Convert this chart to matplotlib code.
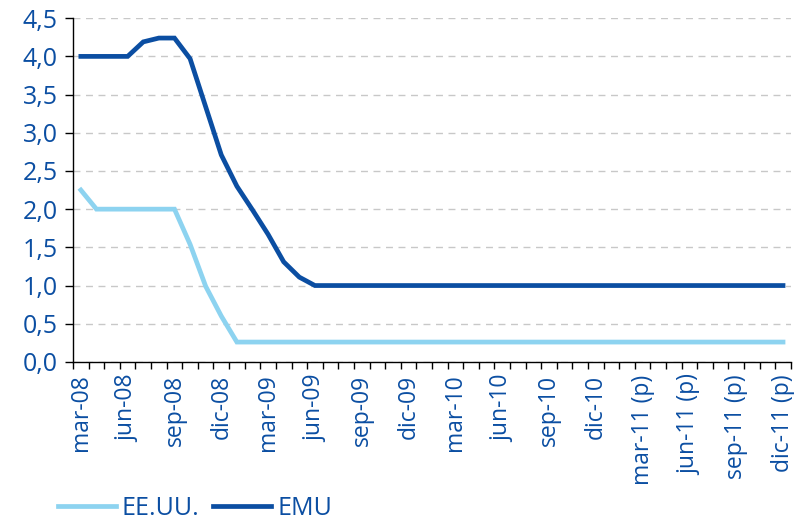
import matplotlib
matplotlib.use("Agg")
import matplotlib.pyplot as plt
from matplotlib.ticker import FixedLocator, FuncFormatter

months = ["mar", "abr", "may", "jun", "jul", "ago", "sep", "oct", "nov", "dic", "ene", "feb"]
years = ["08"] * 10 + ["09"] * 12 + ["10"] * 12 + ["11"] * 12
labels = []
for i, yy in enumerate(years):
    m = months[i % 12]
    lab = f"{m}-{yy}"
    if yy == "11":
        lab += " (p)"
    labels.append(lab)

eeuu = [2.25, 2.0, 2.0, 2.0, 2.0, 2.0, 2.0, 1.54, 0.99, 0.6] + [0.26] * 36
emu = [4.0, 4.0, 4.0, 4.0, 4.19, 4.24, 4.24, 3.97, 3.34, 2.71,
       2.3, 1.99, 1.67, 1.31, 1.11] + [1.0] * 31

text_color = "#0B4EA2"
light = "#8DD3F0"
dark = "#0B4EA2"

plt.rcParams["font.family"] = ["Open Sans", "DejaVu Sans"]

fig = plt.figure(figsize=(7.94, 5.2), dpi=100)
ax = fig.add_axes([0.092, 0.304, 0.904, 0.661])

x = list(range(len(labels)))
ax.plot(x, eeuu, color=light, lw=3.4, label="EE.UU.", solid_joinstyle="miter")
ax.plot(x, emu, color=dark, lw=3.4, label="EMU", solid_joinstyle="miter")

ax.set_xlim(-0.5, len(labels) - 0.5)
ax.set_ylim(0, 4.5)
ax.set_yticks([i * 0.5 for i in range(10)])
ax.yaxis.set_major_formatter(FuncFormatter(lambda v, p: f"{v:.1f}".replace(".", ",")))
ax.grid(axis="y", color="#c8c8c8", linestyle=(0, (5, 4)), lw=1)
ax.set_axisbelow(True)

ax.set_xticks(x[::3])
ax.set_xticklabels(labels[::3], rotation=90)
ax.xaxis.set_minor_locator(FixedLocator([i - 0.5 for i in range(len(labels) + 1)]))
ax.tick_params(axis="x", which="major", length=0, pad=9, labelsize=16.5)
ax.tick_params(axis="x", which="minor", length=5, width=1)
ax.tick_params(axis="y", length=6, width=1, pad=5, labelsize=18)
ax.tick_params(labelcolor=text_color)

for s in ["top", "right"]:
    ax.spines[s].set_visible(False)
for s in ["left", "bottom"]:
    ax.spines[s].set_linewidth(1)

leg = fig.legend(loc="lower left", bbox_to_anchor=(0.045, -0.045), ncol=2, frameon=False,
                 fontsize=18, handlelength=2.3, columnspacing=0.55, handletextpad=0.25)
for t in leg.get_texts():
    t.set_color(text_color)

fig.savefig("out.png", dpi=100)
